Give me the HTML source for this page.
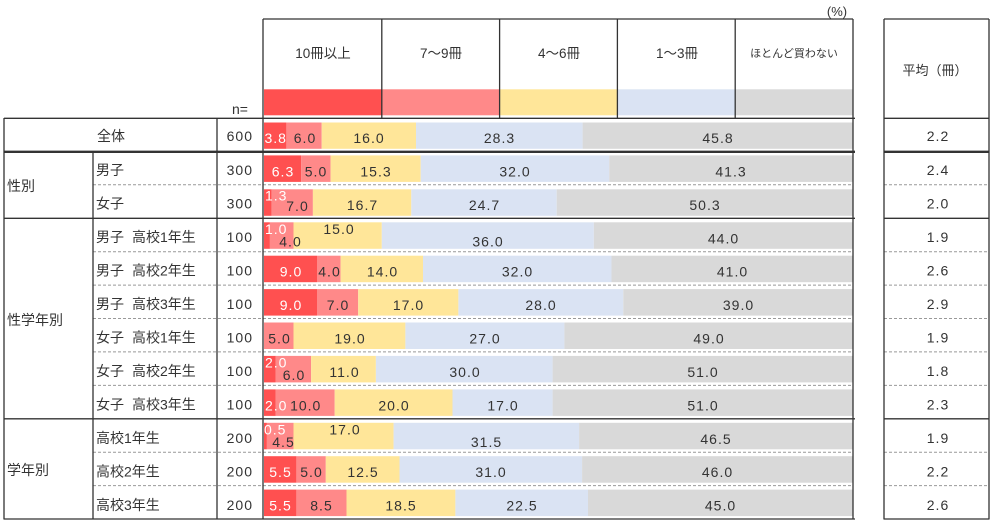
<!DOCTYPE html>
<html><head><meta charset="utf-8">
<style>
html,body{margin:0;padding:0;background:#fff;}
svg{display:block;}
text{font-family:"Liberation Sans","Noto Sans CJK JP",sans-serif;fill:#333;}
.n{font-size:14px;letter-spacing:1px;}
.j{font-size:14px;}
.w{fill:#fff;}
</style></head><body>
<svg width="997" height="527" viewBox="0 0 997 527" xmlns="http://www.w3.org/2000/svg">
<!-- dashed row lines -->
<g stroke="#999" stroke-width="1" stroke-dasharray="3,2" fill="none">
<line x1="93" y1="184.8" x2="853" y2="184.8"/><line x1="884" y1="184.8" x2="989" y2="184.8"/>
<line x1="93" y1="251.7" x2="853" y2="251.7"/><line x1="884" y1="251.7" x2="989" y2="251.7"/>
<line x1="93" y1="285.1" x2="853" y2="285.1"/><line x1="884" y1="285.1" x2="989" y2="285.1"/>
<line x1="93" y1="318.5" x2="853" y2="318.5"/><line x1="884" y1="318.5" x2="989" y2="318.5"/>
<line x1="93" y1="351.9" x2="853" y2="351.9"/><line x1="884" y1="351.9" x2="989" y2="351.9"/>
<line x1="93" y1="385.4" x2="853" y2="385.4"/><line x1="884" y1="385.4" x2="989" y2="385.4"/>
<line x1="93" y1="452.2" x2="853" y2="452.2"/><line x1="884" y1="452.2" x2="989" y2="452.2"/>
<line x1="93" y1="485.6" x2="853" y2="485.6"/><line x1="884" y1="485.6" x2="989" y2="485.6"/>
</g>
<!-- legend swatches -->
<rect x="264" y="89.3" width="117.8" height="26" fill="#FF5050"/>
<rect x="381.8" y="89.3" width="117.8" height="26" fill="#FF8989"/>
<rect x="499.6" y="89.3" width="117.8" height="26" fill="#FFE699"/>
<rect x="617.4" y="89.3" width="117.8" height="26" fill="#DAE3F3"/>
<rect x="735.2" y="89.3" width="117.8" height="26" fill="#D9D9D9"/>
<!-- bars -->
<g>
<!-- row0 -->
<rect x="264" y="122.5" width="22.4" height="26.3" fill="#FF5050"/><rect x="286.4" y="122.5" width="35.3" height="26.3" fill="#FF8989"/><rect x="321.7" y="122.5" width="94.3" height="26.3" fill="#FFE699"/><rect x="416" y="122.5" width="166.6" height="26.3" fill="#DAE3F3"/><rect x="582.6" y="122.5" width="270.4" height="26.3" fill="#D9D9D9"/>
<!-- row1 -->
<rect x="264" y="155.4" width="37.1" height="26.5" fill="#FF5050"/><rect x="301.1" y="155.4" width="29.5" height="26.5" fill="#FF8989"/><rect x="330.6" y="155.4" width="90.1" height="26.5" fill="#FFE699"/><rect x="420.7" y="155.4" width="188.5" height="26.5" fill="#DAE3F3"/><rect x="609.2" y="155.4" width="243.8" height="26.5" fill="#D9D9D9"/>
<!-- row2 -->
<rect x="264" y="189.3" width="7.7" height="26.5" fill="#FF5050"/><rect x="271.7" y="189.3" width="41.2" height="26.5" fill="#FF8989"/><rect x="312.9" y="189.3" width="98.4" height="26.5" fill="#FFE699"/><rect x="411.3" y="189.3" width="145.4" height="26.5" fill="#DAE3F3"/><rect x="556.7" y="189.3" width="296.3" height="26.5" fill="#D9D9D9"/>
<!-- row3 -->
<rect x="264" y="222.3" width="5.9" height="26.5" fill="#FF5050"/><rect x="269.9" y="222.3" width="23.6" height="26.5" fill="#FF8989"/><rect x="293.5" y="222.3" width="88.3" height="26.5" fill="#FFE699"/><rect x="381.8" y="222.3" width="212" height="26.5" fill="#DAE3F3"/><rect x="593.8" y="222.3" width="259.2" height="26.5" fill="#D9D9D9"/>
<!-- row4 -->
<rect x="264" y="255.7" width="53" height="26.5" fill="#FF5050"/><rect x="317" y="255.7" width="23.6" height="26.5" fill="#FF8989"/><rect x="340.6" y="255.7" width="82.4" height="26.5" fill="#FFE699"/><rect x="423" y="255.7" width="188.5" height="26.5" fill="#DAE3F3"/><rect x="611.5" y="255.7" width="241.5" height="26.5" fill="#D9D9D9"/>
<!-- row5 -->
<rect x="264" y="289.1" width="53" height="26.5" fill="#FF5050"/><rect x="317" y="289.1" width="41.2" height="26.5" fill="#FF8989"/><rect x="358.2" y="289.1" width="100.2" height="26.5" fill="#FFE699"/><rect x="458.4" y="289.1" width="164.9" height="26.5" fill="#DAE3F3"/><rect x="623.3" y="289.1" width="229.7" height="26.5" fill="#D9D9D9"/>
<!-- row6 -->
<rect x="264" y="322.5" width="29.5" height="26.5" fill="#FF8989"/><rect x="293.5" y="322.5" width="111.9" height="26.5" fill="#FFE699"/><rect x="405.4" y="322.5" width="159" height="26.5" fill="#DAE3F3"/><rect x="564.4" y="322.5" width="288.6" height="26.5" fill="#D9D9D9"/>
<!-- row7 -->
<rect x="264" y="355.9" width="11.8" height="26.5" fill="#FF5050"/><rect x="275.8" y="355.9" width="35.3" height="26.5" fill="#FF8989"/><rect x="311.1" y="355.9" width="64.8" height="26.5" fill="#FFE699"/><rect x="375.9" y="355.9" width="176.7" height="26.5" fill="#DAE3F3"/><rect x="552.6" y="355.9" width="300.4" height="26.5" fill="#D9D9D9"/>
<!-- row8 -->
<rect x="264" y="389.4" width="11.8" height="26.5" fill="#FF5050"/><rect x="275.8" y="389.4" width="58.9" height="26.5" fill="#FF8989"/><rect x="334.7" y="389.4" width="117.8" height="26.5" fill="#FFE699"/><rect x="452.5" y="389.4" width="100.1" height="26.5" fill="#DAE3F3"/><rect x="552.6" y="389.4" width="300.4" height="26.5" fill="#D9D9D9"/>
<!-- row9 -->
<rect x="264" y="422.8" width="2.9" height="26.5" fill="#FF5050"/><rect x="266.9" y="422.8" width="26.6" height="26.5" fill="#FF8989"/><rect x="293.5" y="422.8" width="100.1" height="26.5" fill="#FFE699"/><rect x="393.6" y="422.8" width="185.5" height="26.5" fill="#DAE3F3"/><rect x="579.1" y="422.8" width="273.9" height="26.5" fill="#D9D9D9"/>
<!-- row10 -->
<rect x="264" y="456.2" width="32.4" height="26.5" fill="#FF5050"/><rect x="296.4" y="456.2" width="29.4" height="26.5" fill="#FF8989"/><rect x="325.8" y="456.2" width="73.7" height="26.5" fill="#FFE699"/><rect x="399.5" y="456.2" width="182.6" height="26.5" fill="#DAE3F3"/><rect x="582.1" y="456.2" width="270.9" height="26.5" fill="#D9D9D9"/>
<!-- row11 -->
<rect x="264" y="489.6" width="32.4" height="26.5" fill="#FF5050"/><rect x="296.4" y="489.6" width="50.1" height="26.5" fill="#FF8989"/><rect x="346.5" y="489.6" width="108.9" height="26.5" fill="#FFE699"/><rect x="455.4" y="489.6" width="132.6" height="26.5" fill="#DAE3F3"/><rect x="588" y="489.6" width="265" height="26.5" fill="#D9D9D9"/>
</g>
<!-- solid lines -->
<g stroke="#333" stroke-width="1.3" fill="none">
<line x1="263" y1="19" x2="853" y2="19"/>
<line x1="884" y1="19" x2="989" y2="19"/>
<line x1="263" y1="19" x2="263" y2="519.5"/>
<line x1="853" y1="19" x2="853" y2="519.5"/>
<line x1="884" y1="19" x2="884" y2="519.5"/>
<line x1="989" y1="19" x2="989" y2="519.5"/>
<line x1="381.8" y1="19" x2="381.8" y2="118"/>
<line x1="499.6" y1="19" x2="499.6" y2="118"/>
<line x1="617.4" y1="19" x2="617.4" y2="118"/>
<line x1="735.2" y1="19" x2="735.2" y2="118"/>
<line x1="4" y1="118.3" x2="855" y2="118.3"/>
<line x1="884" y1="118.3" x2="989" y2="118.3"/>
<line x1="4" y1="218.3" x2="855" y2="218.3"/>
<line x1="884" y1="218.3" x2="989" y2="218.3"/>
<line x1="4" y1="418.8" x2="855" y2="418.8"/>
<line x1="884" y1="418.8" x2="989" y2="418.8"/>
<line x1="4" y1="519" x2="855" y2="519"/>
<line x1="884" y1="519" x2="989" y2="519"/>
<line x1="4" y1="118" x2="4" y2="519.5"/>
<line x1="93" y1="152" x2="93" y2="519.5"/>
<line x1="217" y1="118" x2="217" y2="519.5"/>
</g>
<g stroke="#333" stroke-width="2.3" fill="none">
<line x1="4" y1="151.8" x2="855" y2="151.8"/>
<line x1="884" y1="151.8" x2="989" y2="151.8"/>
</g>
<!-- header text -->
<text class="j" x="837" y="16" text-anchor="middle" style="font-size:13px">(%)</text>
<text class="j" x="323" y="58" text-anchor="middle" style="font-size:13.5px">10冊以上</text>
<text class="j" x="441" y="58" text-anchor="middle" style="font-size:13.5px">7～9冊</text>
<text class="j" x="559" y="58" text-anchor="middle" style="font-size:13.5px">4～6冊</text>
<text class="j" x="677" y="58" text-anchor="middle" style="font-size:13.5px">1～3冊</text>
<text class="j" x="794" y="57" text-anchor="middle" style="font-size:11px">ほとんど買わない</text>
<text class="j" x="935" y="75" text-anchor="middle" style="font-size:13px">平均（冊）</text>
<text class="j" x="232" y="114" style="font-size:14px">n=</text>
<!-- row labels -->
<text class="j" x="111" y="141" text-anchor="middle">全体</text>
<text class="j" x="7" y="191">性別</text>
<text class="j" x="7" y="325">性学年別</text>
<text class="j" x="7" y="475">学年別</text>
<text class="j" x="96" y="175">男子</text>
<text class="j" x="96" y="208.5">女子</text>
<text class="j" x="96" y="242">男子<tspan x="132">高校1年生</tspan></text>
<text class="j" x="96" y="275.5">男子<tspan x="132">高校2年生</tspan></text>
<text class="j" x="96" y="309">男子<tspan x="132">高校3年生</tspan></text>
<text class="j" x="96" y="342.5">女子<tspan x="132">高校1年生</tspan></text>
<text class="j" x="96" y="376">女子<tspan x="132">高校2年生</tspan></text>
<text class="j" x="96" y="409.5">女子<tspan x="132">高校3年生</tspan></text>
<text class="j" x="96" y="443">高校1年生</text>
<text class="j" x="96" y="476.5">高校2年生</text>
<text class="j" x="96" y="510">高校3年生</text>
<!-- n -->
<g class="n" text-anchor="end">
<text class="n" x="253" y="141">600</text>
<text class="n" x="253" y="175">300</text>
<text class="n" x="253" y="208.5">300</text>
<text class="n" x="253" y="242">100</text>
<text class="n" x="253" y="275.5">100</text>
<text class="n" x="253" y="309">100</text>
<text class="n" x="253" y="342.5">100</text>
<text class="n" x="253" y="376">100</text>
<text class="n" x="253" y="409.5">100</text>
<text class="n" x="253" y="443">200</text>
<text class="n" x="253" y="476.5">200</text>
<text class="n" x="253" y="510">200</text>
</g>
<!-- averages -->
<g text-anchor="middle">
<text class="n" x="938" y="141">2.2</text>
<text class="n" x="938" y="175">2.4</text>
<text class="n" x="938" y="208.5">2.0</text>
<text class="n" x="938" y="242">1.9</text>
<text class="n" x="938" y="275.5">2.6</text>
<text class="n" x="938" y="309">2.9</text>
<text class="n" x="938" y="342.5">1.9</text>
<text class="n" x="938" y="376">1.8</text>
<text class="n" x="938" y="409.5">2.3</text>
<text class="n" x="938" y="443">1.9</text>
<text class="n" x="938" y="476.5">2.2</text>
<text class="n" x="938" y="510">2.6</text>
</g>
<!-- bar labels -->
<g text-anchor="middle">
<!-- row0 -->
<text class="n w" x="275.7" y="143">3.8</text><text class="n" x="305" y="143">6.0</text><text class="n" x="369" y="143">16.0</text><text class="n" x="499.5" y="143">28.3</text><text class="n" x="718" y="143">45.8</text>
<!-- row1 -->
<text class="n w" x="283" y="176.4">6.3</text><text class="n" x="316" y="176.4">5.0</text><text class="n" x="376" y="176.4">15.3</text><text class="n" x="515" y="176.4">32.0</text><text class="n" x="731" y="176.4">41.3</text>
<!-- row2 -->
<text class="n w" x="265" y="200.3" text-anchor="start">1.3</text><text class="n" x="297.5" y="211">7.0</text><text class="n" x="362.5" y="209.8">16.7</text><text class="n" x="484.5" y="209.8">24.7</text><text class="n" x="705" y="209.8">50.3</text>
<!-- row3 -->
<text class="n w" x="265" y="233.8" text-anchor="start">1.0</text><text class="n" x="290.5" y="246.3">4.0</text><text class="n" x="339" y="233.8">15.0</text><text class="n" x="488" y="246.3">36.0</text><text class="n" x="723.5" y="243.3">44.0</text>
<!-- row4 -->
<text class="n w" x="291" y="276.7">9.0</text><text class="n" x="329.5" y="276.7">4.0</text><text class="n" x="382.5" y="276.7">14.0</text><text class="n" x="517.5" y="276.7">32.0</text><text class="n" x="732.5" y="276.7">41.0</text>
<!-- row5 -->
<text class="n w" x="291" y="310.1">9.0</text><text class="n" x="338" y="310.1">7.0</text><text class="n" x="408.5" y="310.1">17.0</text><text class="n" x="541" y="310.1">28.0</text><text class="n" x="738.5" y="310.1">39.0</text>
<!-- row6 -->
<text class="n" x="279.5" y="343.5">5.0</text><text class="n" x="350" y="343.5">19.0</text><text class="n" x="485" y="343.5">27.0</text><text class="n" x="709" y="343.5">49.0</text>
<!-- row7 -->
<text class="n w" x="265" y="367.4" text-anchor="start">2.0</text><text class="n" x="294" y="379.9">6.0</text><text class="n" x="344.5" y="376.9">11.0</text><text class="n" x="465" y="376.9">30.0</text><text class="n" x="703" y="376.9">51.0</text>
<!-- row8 -->
<text class="n w" x="265" y="410.4" text-anchor="start">2.0</text><text class="n" x="305.7" y="410.4">10.0</text><text class="n" x="394" y="410.4">20.0</text><text class="n" x="503" y="410.4">17.0</text><text class="n" x="703" y="410.4">51.0</text>
<!-- row9 -->
<text class="n w" x="264" y="434.3" text-anchor="start">0.5</text><text class="n" x="283.5" y="446.8">4.5</text><text class="n" x="345" y="434.3">17.0</text><text class="n" x="486.5" y="446.8">31.5</text><text class="n" x="716" y="443.8">46.5</text>
<!-- row10 -->
<text class="n w" x="280.5" y="477.2">5.5</text><text class="n" x="311.5" y="477.2">5.0</text><text class="n" x="363" y="477.2">12.5</text><text class="n" x="491" y="477.2">31.0</text><text class="n" x="717.5" y="477.2">46.0</text>
<!-- row11 -->
<text class="n w" x="280.5" y="510.6">5.5</text><text class="n" x="321.5" y="510.6">8.5</text><text class="n" x="401" y="510.6">18.5</text><text class="n" x="522" y="510.6">22.5</text><text class="n" x="720.5" y="510.6">45.0</text>
</g>
</svg>
</body></html>
